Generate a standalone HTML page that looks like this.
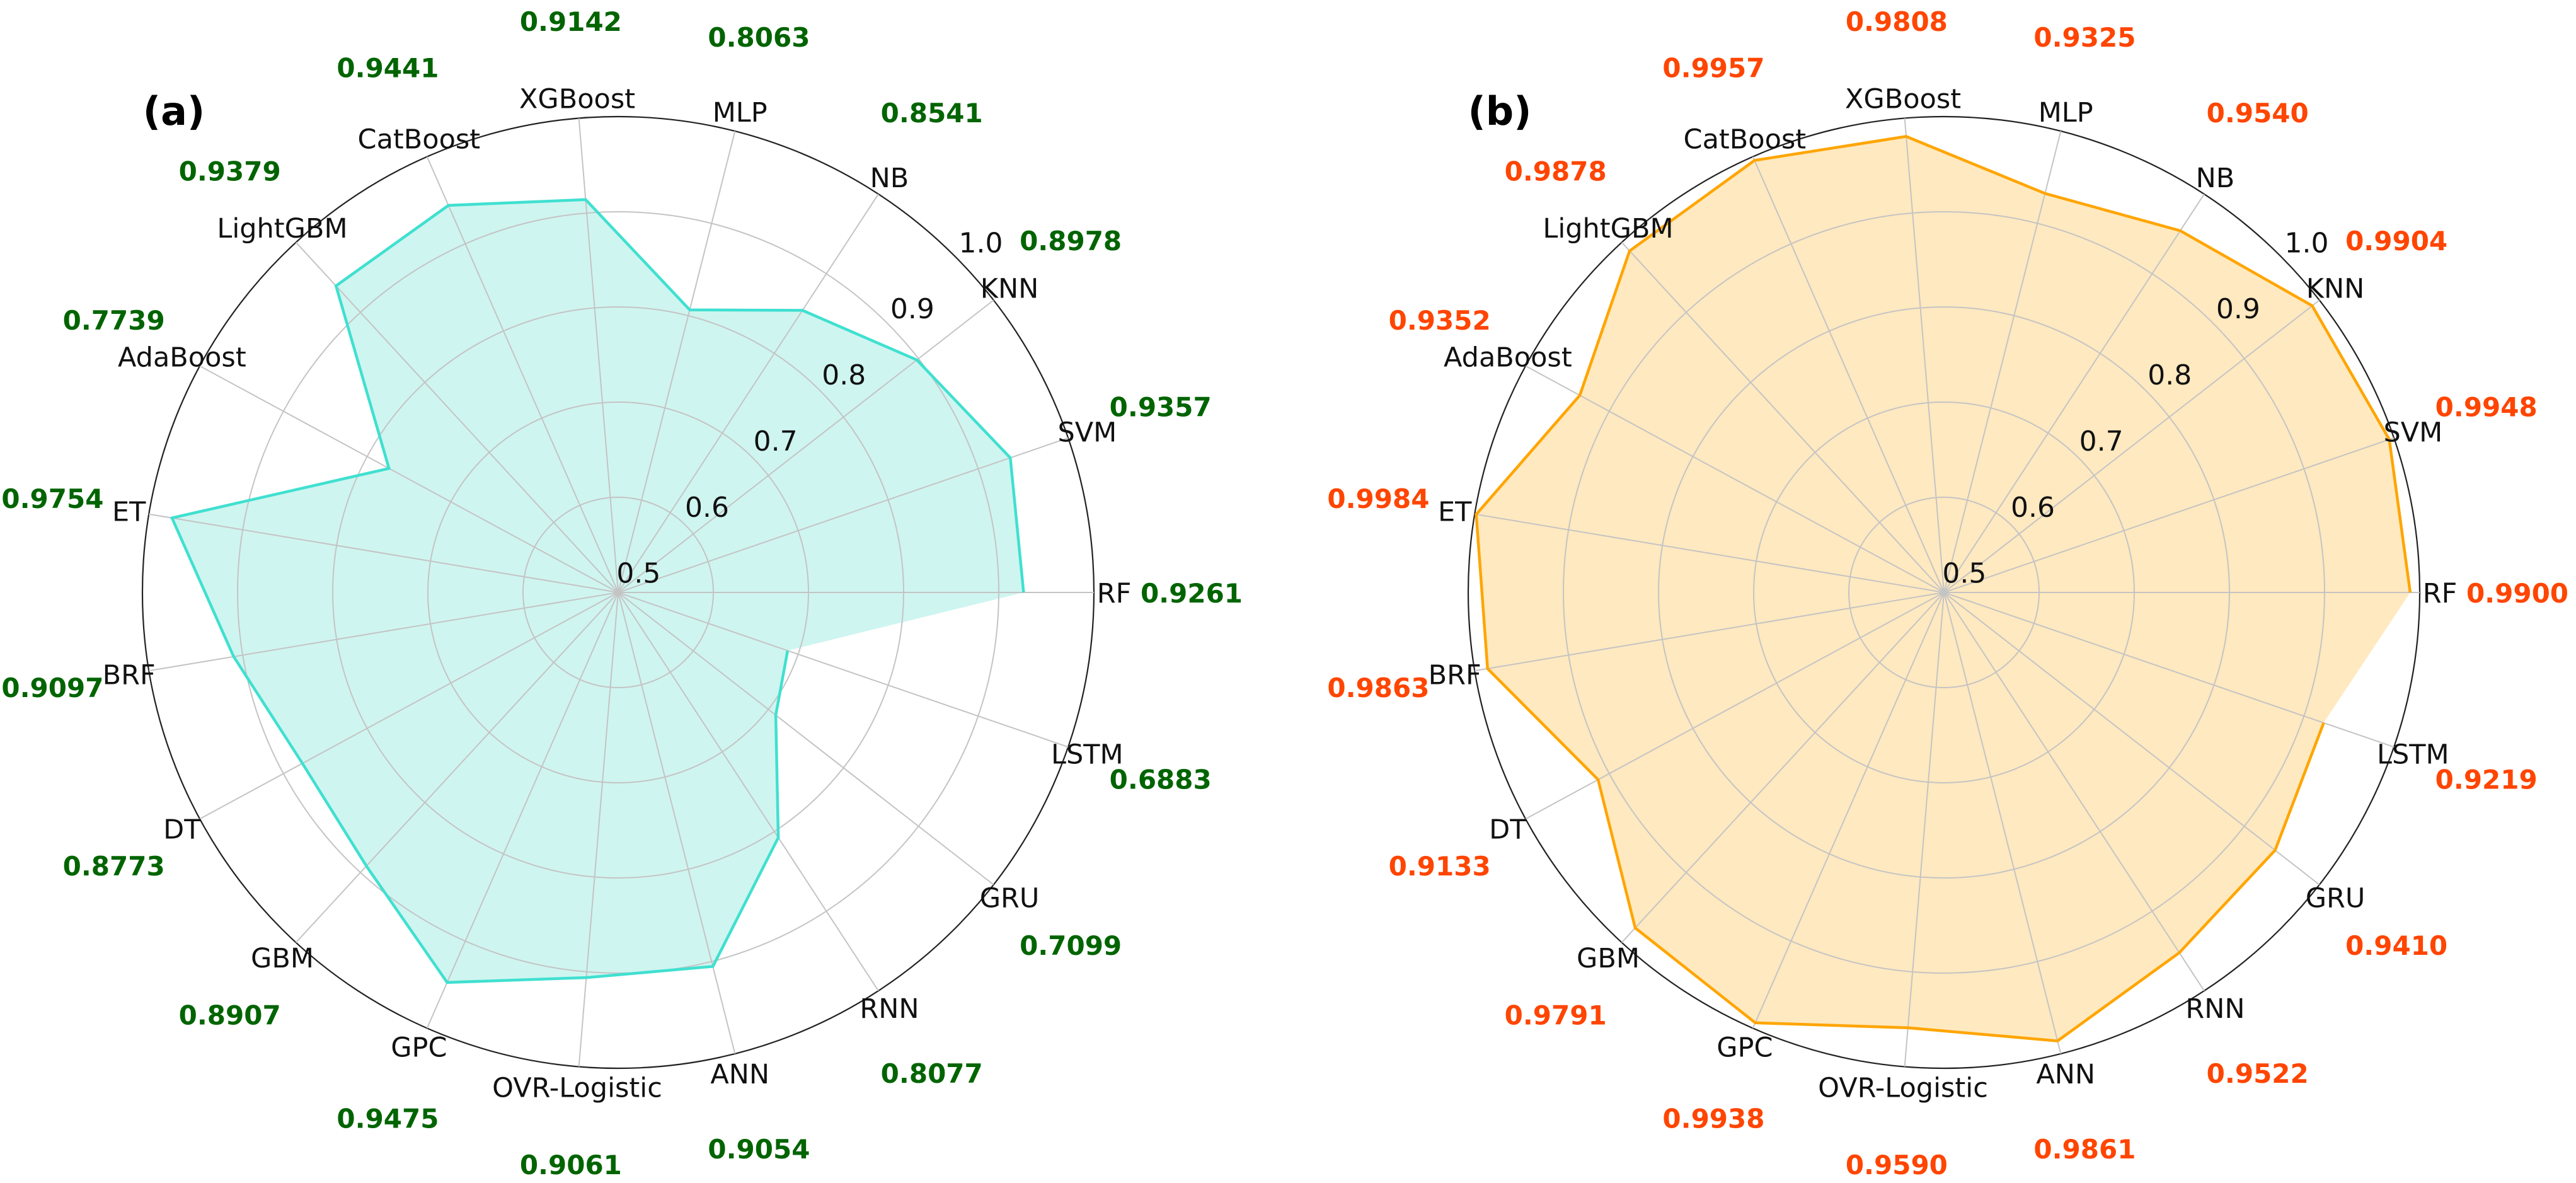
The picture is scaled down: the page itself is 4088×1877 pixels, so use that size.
<!DOCTYPE html>
<html><head><meta charset="utf-8"><style>
html,body{margin:0;padding:0;background:#fff;}
svg{display:block;font-family:"DejaVu Sans","Liberation Sans",sans-serif;}
</style></head><body>
<svg id="chart" width="4088" height="1877" viewBox="0 0 4088 1877" xmlns="http://www.w3.org/2000/svg">
<text x="276" y="198" font-size="62" font-weight="bold" text-anchor="middle">(a)</text>
<text x="2380" y="198" font-size="62" font-weight="bold" text-anchor="middle">(b)</text>
</svg>
<script>
const categories = ["RF","SVM","KNN","NB","MLP","XGBoost","CatBoost","LightGBM","AdaBoost","ET","BRF","DT","GBM","GPC","OVR-Logistic","ANN","RNN","GRU","LSTM"];
const valuesA = [0.9261,0.9357,0.8978,0.8541,0.8063,0.9142,0.9441,0.9379,0.7739,0.9754,0.9097,0.8773,0.8907,0.9475,0.9061,0.9054,0.8077,0.7099,0.6883];
const valuesB = [0.9900,0.9948,0.9904,0.9540,0.9325,0.9808,0.9957,0.9878,0.9352,0.9984,0.9863,0.9133,0.9791,0.9938,0.9590,0.9861,0.9522,0.9410,0.9219];
const rTicks = [0.5,0.6,0.7,0.8,0.9,1.0];
const rTickLabels = ["0.5","0.6","0.7","0.8","0.9","1.0"];
const rMin = 0.5, rMax = 1.0;

const NS = "http://www.w3.org/2000/svg";
const svg = document.getElementById('chart');
function mk(tag, attrs, parent){
  const e = document.createElementNS(NS, tag);
  for (const k in attrs) e.setAttribute(k, attrs[k]);
  (parent||svg).appendChild(e);
  return e;
}
function drawPanel(cx, cy, R, values, lineColor, fillColor, valColor, prefix){
  const g = mk('g', {});
  
  
  const N = categories.length;
  const ang = i => i * 2 * Math.PI / N;
  const rad = v => (v - rMin) / (rMax - rMin) * R;
  const px = (i, r) => cx + r * Math.cos(ang(i));
  const py = (i, r) => cy - r * Math.sin(ang(i));
  const pts = values.map((v,i) => px(i, rad(v)).toFixed(1) + ',' + py(i, rad(v)).toFixed(1));
  const fill = mk('polygon', {points: pts.join(' '), fill: fillColor, stroke: 'none'}, g);
  
  
  rTicks.forEach((t, k) => {
    if (t === rMin) return;
    const c = mk('circle', {cx: cx, cy: cy, r: rad(t), fill: 'none', stroke: t === rMax ? '#222' : '#c4c4c4', 'stroke-width': t === rMax ? 2.2 : 2}, g);
    
    
  });
  categories.forEach((c, i) => {
    const l = mk('line', {x1: cx, y1: cy, x2: px(i, R), y2: py(i, R), stroke: '#c4c4c4', 'stroke-width': 2}, g);
    
    
  });
  const line = mk('polyline', {points: pts.join(' '), fill: 'none', stroke: lineColor, 'stroke-width': 4.5, 'stroke-linejoin': 'miter'}, g);
  
  
  const ta = 44 * Math.PI / 180;
  rTicks.forEach((t, k) => {
    const r = rad(t) + 45;
    const tx = mk('text', {x: cx + r * Math.cos(ta), y: cy - r * Math.sin(ta) + 16, 'font-size': 44, 'text-anchor': 'middle', fill: '#111'}, g);
    tx.textContent = rTickLabels[k];
    
    
  });
  categories.forEach((c, i) => {
    const t = mk('text', {x: px(i, R + 32), y: py(i, R + 32) + 16, 'font-size': 43, 'text-anchor': 'middle', fill: '#111'}, g);
    t.textContent = c;
    
    
    const v = mk('text', {x: px(i, R + 155), y: py(i, R + 155) + 16, 'font-size': 42, 'font-weight': 'bold', 'text-anchor': 'middle', fill: valColor}, g);
    v.textContent = values[i].toFixed(4);
    
    
  });
}
drawPanel(981, 940, 755, valuesA, '#40e0d0', '#cff5f0', '#006400', 'panel-a');
drawPanel(3085, 940, 755, valuesB, '#ffa500', '#ffe9c0', '#ff4500', 'panel-b');
</script>
</body></html>
